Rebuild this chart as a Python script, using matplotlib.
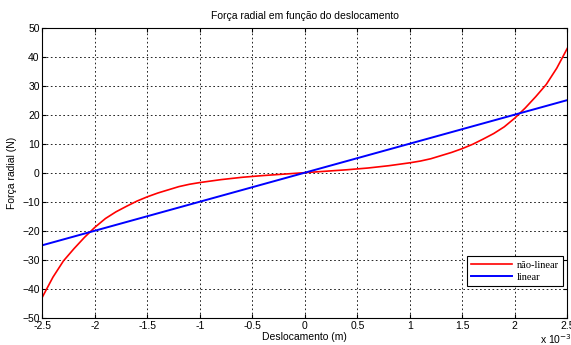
import numpy as np
import matplotlib
matplotlib.use("Agg")
import matplotlib.pyplot as plt

# deslocamento em unidades de 1e-3 m
desl_pos = [0.0, 0.1, 0.2, 0.3, 0.4, 0.5, 0.6, 0.7, 0.8, 0.9, 1.0, 1.1, 1.2,
            1.3, 1.4, 1.5, 1.6, 1.7, 1.8, 1.9, 2.0, 2.1, 2.2, 2.3, 2.4, 2.5]
# forca nao-linear (lado positivo, curva impar)
forca_pos = [0.0, 0.25, 0.5, 0.75, 1.0, 1.3, 1.6, 2.0, 2.4, 2.9, 3.4, 4.0, 4.8,
             5.9, 7.0, 8.3, 9.8, 11.6, 13.5, 15.8, 18.8, 22.3, 26.2, 30.4, 36.0, 42.8]
lin_x = [-2.5, 2.5]
lin_f = [-25, 25]

x_nl = [-v for v in desl_pos[:0:-1]] + desl_pos
f_nl = [-v for v in forca_pos[:0:-1]] + forca_pos

plt.rcParams['font.family'] = ['Liberation Sans', 'DejaVu Sans']
fig = plt.figure(figsize=(5.71, 3.45), dpi=100)
ax = fig.add_axes([0.0744, 0.079, 0.919, 0.841])

ax.plot(x_nl, f_nl, color="red", lw=1.2, label="não-linear")
ax.plot(lin_x, lin_f, color="blue", lw=1.4, label="linear")

ax.set_xlim(-2.5, 2.5)
ax.set_ylim(-50, 50)
ax.set_xticks(np.arange(-2.5, 2.6, 0.5))
ax.set_yticks(np.arange(-50, 51, 10))
ax.set_xticklabels(["-2.5", "-2", "-1.5", "-1", "-0.5", "0", "0.5", "1", "1.5", "2", "2.5"])
ax.tick_params(direction="in", labelsize=7.5, length=3, pad=2, top=True, right=True)
ax.grid(True, color="black", linestyle=(0, (2, 3)), lw=0.6)
for s in ax.spines.values():
    s.set_linewidth(0.8)

ax.set_title("Força radial em função do deslocamento", fontsize=7.5, pad=6)
ax.set_xlabel("Deslocamento (m)", fontsize=7.5, labelpad=1)
ax.set_ylabel("Força radial (N)", fontsize=7.5, labelpad=4)
fig.text(0.945, -0.004, r"x 10$^{-3}$", fontsize=7.5, ha="left", va="bottom")

leg = ax.legend(loc="lower right", bbox_to_anchor=(1.002, 0.092), fancybox=False,
                prop={"family": "Liberation Serif", "size": 7.5}, handlelength=3.9,
                borderpad=0.4, labelspacing=0.25, handletextpad=0.5, framealpha=1)
leg.get_frame().set_edgecolor("black")
leg.get_frame().set_linewidth(0.8)

fig.savefig("out.png", dpi=100)
